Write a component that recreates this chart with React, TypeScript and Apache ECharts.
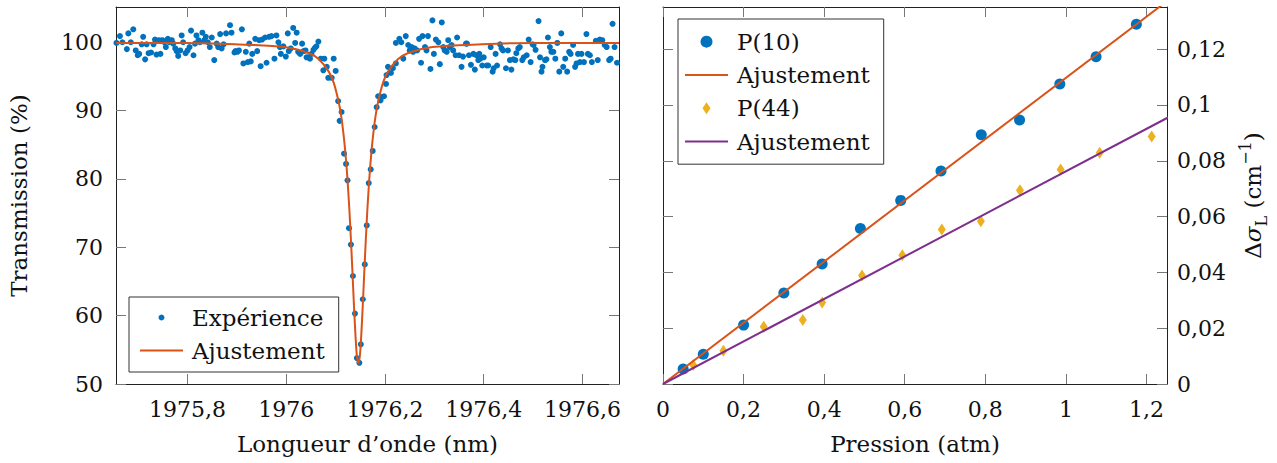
import React, { useEffect, useRef } from 'react';
import * as echarts from 'echarts';

const FONT = 'DejaVu Serif';
const TXT = '#111';
const BLUE = '#0072BD';
const ORANGE = '#D95319';
const YELLOW = '#EDB120';
const PURPLE = '#7E2F8E';

// ---- Left panel: transmission spectrum ----
const experience: [number, number][] = [
  [1975.656, 99.9], [1975.663, 100.9], [1975.668, 100.0], [1975.677, 99.0], [1975.680, 101.3],
  [1975.685, 100.0], [1975.690, 101.9], [1975.695, 98.8], [1975.699, 98.1], [1975.702, 98.3],
  [1975.707, 99.7], [1975.710, 100.8], [1975.714, 97.5], [1975.717, 99.7], [1975.721, 98.4],
  [1975.726, 98.5], [1975.731, 99.7], [1975.734, 100.4], [1975.737, 98.2], [1975.742, 100.3],
  [1975.745, 98.3], [1975.749, 100.3], [1975.753, 100.0], [1975.756, 99.3], [1975.760, 100.5],
  [1975.763, 100.0], [1975.768, 100.3], [1975.771, 99.8], [1975.775, 99.1], [1975.778, 98.7],
  [1975.781, 98.0], [1975.785, 98.8], [1975.788, 101.0], [1975.791, 100.0], [1975.796, 98.4],
  [1975.800, 98.8], [1975.804, 99.3], [1975.807, 101.7], [1975.812, 98.1], [1975.815, 99.8],
  [1975.818, 101.0], [1975.822, 100.3], [1975.825, 100.0], [1975.830, 101.4], [1975.834, 100.3],
  [1975.837, 100.8], [1975.841, 100.0], [1975.845, 99.3], [1975.849, 100.7], [1975.854, 97.4],
  [1975.859, 99.8], [1975.862, 99.3], [1975.866, 101.2], [1975.869, 99.1], [1975.873, 99.7],
  [1975.878, 101.3], [1975.886, 102.5], [1975.889, 101.4], [1975.895, 98.5], [1975.897, 98.7],
  [1975.901, 98.6], [1975.904, 98.8], [1975.910, 101.9], [1975.913, 96.9], [1975.918, 98.6],
  [1975.922, 97.1], [1975.925, 99.8], [1975.928, 97.2], [1975.931, 98.3], [1975.937, 100.5],
  [1975.941, 98.7], [1975.945, 100.3], [1975.948, 96.5], [1975.951, 100.4], [1975.957, 100.7],
  [1975.960, 97.0], [1975.965, 100.8], [1975.970, 100.9], [1975.976, 97.6], [1975.980, 101.0],
  [1975.984, 100.0], [1975.987, 99.3], [1975.989, 98.3], [1975.994, 99.4], [1975.999, 97.9],
  [1976.003, 101.3], [1976.005, 98.7], [1976.009, 99.1], [1976.014, 102.1], [1976.018, 99.9],
  [1976.021, 101.4], [1976.024, 98.6], [1976.028, 98.3], [1976.032, 99.8], [1976.035, 98.7],
  [1976.039, 98.8], [1976.041, 97.8], [1976.045, 97.8], [1976.048, 97.6], [1976.051, 98.3],
  [1976.055, 98.9], [1976.058, 99.2], [1976.061, 99.4], [1976.065, 100.1], [1976.070, 97.6],
  [1976.077, 97.6], [1976.096, 97.6],
  [1976.075, 95.9], [1976.082, 96.4], [1976.085, 94.8], [1976.092, 94.8], [1976.100, 95.8],
  [1976.105, 91.4], [1976.112, 89.8], [1976.108, 88.5], [1976.117, 83.7], [1976.121, 82.2],
  [1976.124, 79.8], [1976.127, 72.8], [1976.131, 70.4], [1976.135, 65.8], [1976.139, 60.3],
  [1976.143, 53.8], [1976.148, 53.1], [1976.151, 55.8], [1976.155, 62.4], [1976.159, 67.5],
  [1976.163, 73.2], [1976.167, 79.4], [1976.171, 81.4], [1976.175, 84.1], [1976.179, 87.6],
  [1976.183, 90.5], [1976.186, 92.1], [1976.191, 91.5], [1976.193, 92.0], [1976.198, 92.1],
  [1976.202, 93.9], [1976.203, 95.2], [1976.206, 96.4], [1976.212, 95.5], [1976.216, 96.2],
  [1976.222, 96.9],
  [1976.222, 99.9], [1976.229, 100.5], [1976.233, 100.0], [1976.237, 97.6], [1976.242, 100.9],
  [1976.247, 99.6], [1976.250, 98.8], [1976.254, 99.3], [1976.257, 98.6], [1976.260, 99.1],
  [1976.265, 98.8], [1976.269, 100.5], [1976.273, 97.0], [1976.276, 100.9], [1976.281, 99.3],
  [1976.284, 98.8], [1976.287, 100.9], [1976.292, 96.1], [1976.296, 103.2], [1976.299, 98.3],
  [1976.303, 100.4], [1976.308, 100.0], [1976.311, 96.8], [1976.315, 102.9], [1976.318, 99.3],
  [1976.321, 98.8], [1976.325, 98.6], [1976.328, 100.3], [1976.331, 99.3], [1976.335, 99.6],
  [1976.338, 98.8], [1976.343, 98.1], [1976.346, 100.7], [1976.350, 98.1], [1976.355, 96.4],
  [1976.358, 97.9], [1976.364, 99.8], [1976.366, 99.8], [1976.370, 98.1], [1976.374, 96.7],
  [1976.379, 98.3], [1976.382, 96.0], [1976.385, 98.1], [1976.389, 97.4], [1976.391, 98.3],
  [1976.393, 97.6], [1976.397, 96.6], [1976.400, 97.8], [1976.406, 96.6], [1976.409, 96.6],
  [1976.414, 99.3], [1976.418, 95.7], [1976.420, 96.2], [1976.424, 98.3], [1976.427, 96.6],
  [1976.433, 99.7], [1976.436, 99.1], [1976.439, 98.8], [1976.445, 96.2], [1976.449, 98.8],
  [1976.453, 97.4], [1976.456, 96.0], [1976.460, 97.5], [1976.464, 97.4], [1976.466, 98.4],
  [1976.470, 99.1], [1976.473, 99.3], [1976.478, 97.4], [1976.481, 97.8], [1976.487, 98.1],
  [1976.491, 100.4], [1976.495, 97.1], [1976.499, 99.7], [1976.501, 99.6], [1976.505, 98.9],
  [1976.511, 103.1], [1976.514, 97.8], [1976.517, 95.7], [1976.519, 96.4], [1976.524, 97.4],
  [1976.527, 97.5], [1976.530, 100.7], [1976.534, 99.3], [1976.537, 98.6], [1976.541, 98.6],
  [1976.545, 97.6], [1976.549, 99.9], [1976.553, 95.7], [1976.557, 101.3], [1976.561, 96.4],
  [1976.565, 97.6], [1976.569, 95.7], [1976.573, 98.6], [1976.576, 98.3], [1976.581, 99.6],
  [1976.585, 96.4], [1976.588, 96.9], [1976.591, 98.3], [1976.595, 97.1], [1976.598, 98.3],
  [1976.603, 97.1], [1976.608, 101.2], [1976.611, 98.3], [1976.615, 98.1], [1976.619, 97.1],
  [1976.627, 100.2], [1976.631, 97.4], [1976.635, 100.4], [1976.640, 100.3], [1976.645, 99.6],
  [1976.649, 99.3], [1976.654, 97.4], [1976.657, 97.6], [1976.661, 102.7], [1976.665, 99.3],
  [1976.670, 97.0],
];

const ajustementTransmission: [number, number][] = [
  [1975.655, 99.9], [1975.796, 99.9], [1975.896, 99.7], [1975.996, 99.3], [1976.046, 98.4],
  [1976.066, 97.5], [1976.086, 95.7], [1976.096, 94.1], [1976.106, 91.3], [1976.111, 89.3],
  [1976.116, 86.5], [1976.120, 83.6], [1976.124, 79.9], [1976.128, 75.2], [1976.131, 71.0],
  [1976.134, 66.4], [1976.137, 61.6], [1976.140, 57.3], [1976.143, 54.1], [1976.146, 53.0],
  [1976.149, 54.1], [1976.152, 57.3], [1976.155, 61.6], [1976.158, 66.4], [1976.161, 71.0],
  [1976.164, 75.2], [1976.168, 79.9], [1976.172, 83.6], [1976.176, 86.5], [1976.181, 89.3],
  [1976.186, 91.3], [1976.196, 94.1], [1976.206, 95.7], [1976.226, 97.5], [1976.246, 98.4],
  [1976.296, 99.3], [1976.396, 99.7], [1976.496, 99.9], [1976.674, 99.9],
];

const xTicksLeft = [1975.8, 1976, 1976.2, 1976.4, 1976.6];
const yTicksLeft = [50, 60, 70, 80, 90, 100];

// ---- Right panel: pressure broadening ----
const pressionP10 = [0.05, 0.10, 0.20, 0.30, 0.395, 0.49, 0.59, 0.69, 0.79, 0.885, 0.985, 1.075, 1.175];
const deltaP10 = [0.0054, 0.0107, 0.0211, 0.0326, 0.0430, 0.0557, 0.0658, 0.0763, 0.0893, 0.0946, 0.1075, 0.1173, 0.1289];
const pressionP44 = [0.075, 0.15, 0.25, 0.347, 0.395, 0.494, 0.594, 0.692, 0.789, 0.886, 0.987, 1.084, 1.213];
const deltaP44 = [0.0068, 0.0119, 0.0205, 0.0229, 0.0292, 0.0389, 0.0461, 0.0554, 0.0583, 0.0694, 0.0769, 0.0829, 0.0887];
const fitP10: [number, number][] = [[0, 0], [1.26, 0.1382]];
const fitP44: [number, number][] = [[0, 0], [1.26, 0.0960]];

const xTicksRight = [0, 0.2, 0.4, 0.6, 0.8, 1, 1.2];
const yTicksRight = [0, 0.02, 0.04, 0.06, 0.08, 0.1, 0.12];

const fmt = (v: number) => String(v).replace('.', ',');
const legendFmt = (n: string) => (n.startsWith('Ajustement') ? 'Ajustement' : n);

const tickText = { fontFamily: FONT, fontSize: 22, color: TXT };
const baseText = { fontFamily: FONT, fontSize: 23, color: TXT };
const frame = { show: true, onZero: false, lineStyle: { color: '#222', width: 1 } };
const tick = (vals: number[]) => ({
  show: true, inside: true, length: 10, customValues: vals, lineStyle: { color: '#777', width: 1 },
});
const LINE_ICON = 'path://M0,0H43V2H0Z';
const DIAMOND_ICON = 'path://M4,0L8,6L4,12L0,6Z';

function makeAxis(opts: any) {
  const { ticks, labels, margin, ...rest } = opts;
  return {
    type: 'value',
    axisLine: frame,
    axisTick: tick(ticks),
    axisLabel: labels
      ? { show: true, customValues: ticks, formatter: fmt, margin, ...tickText, lineHeight: 26 }
      : { show: false },
    splitLine: { show: false },
    ...rest,
  };
}

export default function App() {
  const ref = useRef<HTMLDivElement>(null);
  useEffect(() => {
    if (!ref.current) return;
    const chart = echarts.init(ref.current, undefined, { renderer: 'svg' });
    const option: any = {
      animation: false,
      backgroundColor: '#fff',
      textStyle: { fontFamily: FONT },
      grid: [
        { left: 116, right: 658, top: 7, bottom: 79, outerBoundsMode: 'none' },
        { left: 663, right: 110, top: 7, bottom: 79, outerBoundsMode: 'none' },
      ],
      xAxis: [
        makeAxis({
          gridIndex: 0, position: 'bottom', min: 1975.655, max: 1976.674, ticks: xTicksLeft, labels: true, margin: 12,
          name: 'Longueur d’onde (nm)', nameLocation: 'middle', nameGap: 45,
          nameTextStyle: { ...baseText, lineHeight: 30 },
        }),
        makeAxis({ gridIndex: 0, position: 'top', min: 1975.655, max: 1976.674, ticks: xTicksLeft, labels: false }),
        makeAxis({
          gridIndex: 1, position: 'bottom', min: 0, max: 1.251, ticks: xTicksRight, labels: true, margin: 12,
          name: 'Pression (atm)', nameLocation: 'middle', nameGap: 45,
          nameTextStyle: { ...baseText, lineHeight: 30 },
        }),
        makeAxis({ gridIndex: 1, position: 'top', min: 0, max: 1.251, ticks: xTicksRight, labels: false }),
      ],
      yAxis: [
        makeAxis({
          gridIndex: 0, position: 'left', min: 50, max: 105.16, ticks: yTicksLeft, labels: true, margin: 13,
          name: 'Transmission (%)', nameLocation: 'middle', nameGap: 82, nameRotate: 90,
          nameTextStyle: { ...baseText, lineHeight: 30 },
        }),
        makeAxis({ gridIndex: 0, position: 'right', min: 50, max: 105.16, ticks: yTicksLeft, labels: false }),
        makeAxis({
          gridIndex: 1, position: 'right', min: 0, max: 0.1351, ticks: yTicksRight, labels: true, margin: 10,
          name: 'Δ{it|σ}{sub|L} (cm{sup|−1})', nameLocation: 'middle', nameGap: 70, nameRotate: 90,
          nameTextStyle: {
            ...baseText, lineHeight: 32,
            rich: {
              it: { fontFamily: FONT, fontSize: 23, color: TXT, fontStyle: 'italic' },
              sub: { fontFamily: FONT, fontSize: 16, color: TXT, verticalAlign: 'bottom', lineHeight: 16 },
              sup: { fontFamily: FONT, fontSize: 16, color: TXT, verticalAlign: 'top', lineHeight: 16 },
            },
          },
        }),
        makeAxis({ gridIndex: 1, position: 'left', min: 0, max: 0.1351, ticks: yTicksRight, labels: false }),
      ],
      legend: [
        {
          orient: 'vertical', left: 129, top: 297,
          data: [
            { name: 'Expérience', icon: 'circle' },
            { name: 'Ajustement (transmission)', icon: LINE_ICON },
          ],
          formatter: legendFmt, selectedMode: false, symbolKeepAspect: true,
          itemWidth: 43, itemHeight: 6, itemGap: 0,
          padding: [4, 14, 5, 11],
          backgroundColor: '#fff', borderColor: '#333', borderWidth: 1, borderRadius: 0,
          textStyle: { ...baseText, lineHeight: 33, padding: [0, 0, 0, 4] },
        },
        {
          orient: 'vertical', left: 678, top: 19,
          data: [
            { name: 'P(10)', icon: 'circle' },
            { name: 'Ajustement P(10)', icon: LINE_ICON },
            { name: 'P(44)', icon: DIAMOND_ICON },
            { name: 'Ajustement P(44)', icon: LINE_ICON },
          ],
          formatter: legendFmt, selectedMode: false, symbolKeepAspect: true,
          itemWidth: 43, itemHeight: 12, itemGap: 0,
          padding: [6, 14, 6, 7],
          backgroundColor: '#fff', borderColor: '#333', borderWidth: 1, borderRadius: 0,
          textStyle: { ...baseText, lineHeight: 33.3, padding: [0, 0, 0, 4] },
        },
      ],
      series: [
        {
          name: 'Expérience', type: 'scatter', xAxisIndex: 0, yAxisIndex: 0,
          data: experience, symbol: 'circle', symbolSize: 6, itemStyle: { color: BLUE, opacity: 1 },
        },
        {
          name: 'Ajustement (transmission)', type: 'line', xAxisIndex: 0, yAxisIndex: 0,
          data: ajustementTransmission, symbol: 'none', smooth: 0.3,
          lineStyle: { color: ORANGE, width: 2 }, itemStyle: { color: ORANGE },
        },
        {
          name: 'P(10)', type: 'scatter', xAxisIndex: 2, yAxisIndex: 2,
          data: pressionP10.map((p, i) => [p, deltaP10[i]]), symbol: 'circle', symbolSize: 11,
          itemStyle: { color: BLUE, opacity: 1 },
        },
        {
          name: 'Ajustement P(10)', type: 'line', xAxisIndex: 2, yAxisIndex: 2,
          data: fitP10, symbol: 'none', lineStyle: { color: ORANGE, width: 2 }, itemStyle: { color: ORANGE },
        },
        {
          name: 'P(44)', type: 'scatter', xAxisIndex: 2, yAxisIndex: 2,
          data: pressionP44.map((p, i) => [p, deltaP44[i]]), symbol: 'diamond', symbolSize: [8, 12],
          itemStyle: { color: YELLOW, opacity: 1 },
        },
        {
          name: 'Ajustement P(44)', type: 'line', xAxisIndex: 2, yAxisIndex: 2,
          data: fitP44, symbol: 'none', lineStyle: { color: PURPLE, width: 2 }, itemStyle: { color: PURPLE },
        },
      ],
    };
    chart.setOption(option);
    return () => chart.dispose();
  }, []);
  return (
    <div
      ref={ref}
      style={{ position: 'fixed', left: 0, top: 0, width: 1277, height: 463, background: '#fff' }}
    />
  );
}
